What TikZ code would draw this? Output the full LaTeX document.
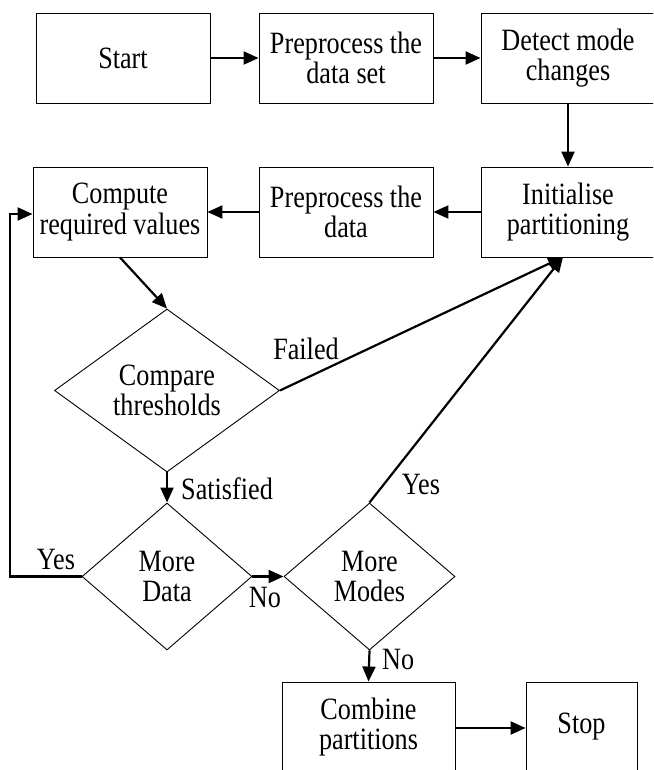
\documentclass[tikz,border=0pt]{standalone}
\usepackage{fontspec}
\setmainfont[FakeStretch=0.845]{Liberation Serif}
\usetikzlibrary{arrows.meta,shapes.geometric}
\begin{document}
\begin{tikzpicture}[x=1pt,y=-1pt,
  every node/.style={font=\fontsize{31}{30.5}\selectfont, inner sep=0pt},
  box/.style={draw, line width=0.9pt, rectangle, align=center},
  dia/.style={draw, line width=0.9pt, diamond, align=center},
  conn/.style={line width=2.2pt, -{Triangle[length=15pt,width=13pt]}},
  lbl/.style={}]
\useasboundingbox (0,0) rectangle (653,770);
\clip (0,0) rectangle (653,770);
% row 1
\node[box, minimum width=174pt, minimum height=90pt] (start) at (123,58) {Start};
\node[box, minimum width=174pt, minimum height=90pt] (pp1) at (346,58) {Preprocess the\\data set};
\node[box, minimum width=174pt, minimum height=90pt] (detect) at (568,58) {Detect mode\\changes};
% row 2
\node[box, minimum width=174pt, minimum height=90pt] (compute) at (120,212) {Compute\\required values};
\node[box, minimum width=174pt, minimum height=90pt] (pp2) at (346,212) {Preprocess the\\data};
\node[box, minimum width=174pt, minimum height=90pt] (init) at (568,212) {Initialise\\partitioning};
% diamonds
\node[dia, minimum width=225pt, minimum height=163pt] (cmp) at (167,390.5) {Compare\\thresholds};
\node[dia, minimum width=170pt, minimum height=147pt] (moredata) at (167,576.5) {More\\Data};
\node[dia, minimum width=171pt, minimum height=147pt] (moremodes) at (369.5,576.5) {More\\Modes};
% bottom row
\node[box, minimum width=173pt, minimum height=90pt] (combine) at (368.5,727) {Combine\\partitions};
\node[box, minimum width=111pt, minimum height=90pt] (stop) at (581.5,727) {Stop};
% connector points
\coordinate (initin) at (563,257);
\coordinate (fbA) at (10,576.5);
\coordinate (fbB) at (10,214);
% connectors
\draw[conn] (start.east) -- (pp1.west);
\draw[conn] (pp1.east) -- (detect.west);
\draw[conn] (detect.south) -- (init.north);
\draw[conn] (init.west) -- (pp2.east);
\draw[conn] (pp2.west) -- (compute.west -| compute.east);
\draw[conn] (compute.south) -- (cmp.north);
\draw[conn] (cmp.east) -- (initin);
\draw[conn] (cmp.south) -- (moredata.north);
\draw[conn] (moredata.west) -- (fbA) -- (fbB) -- (fbB -| compute.west);
\draw[conn] (moredata.east) -- (moremodes.west);
\draw[conn] (moremodes.north) -- (initin);
\draw[conn] (moremodes.south) -- (combine.north);
\draw[conn] (combine.east |- 728,728) -- (stop.west |- 728,728);
% labels
\node[lbl] (lfailed) at (306,349) {Failed};
\node[lbl, anchor=west] (lsat) at (181,489) {Satisfied};
\node[lbl] (lyes1) at (421,484) {Yes};
\node[lbl] (lyes2) at (56,559) {Yes};
\node[lbl] (lno1) at (265,597) {No};
\node[lbl, anchor=west] (lno2) at (382,659) {No};
\end{tikzpicture}
\end{document}
